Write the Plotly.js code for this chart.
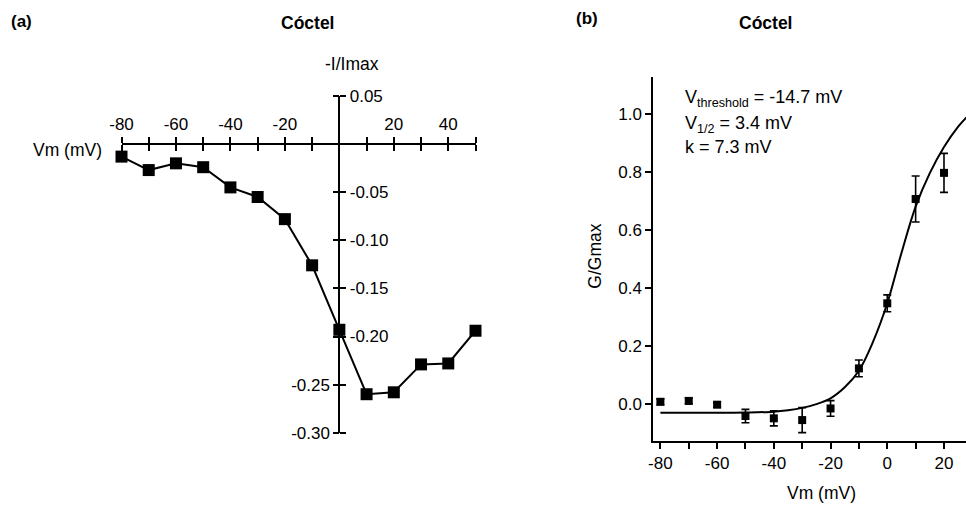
<!DOCTYPE html>
<html>
<head>
<meta charset="utf-8">
<script src="https://cdn.plot.ly/plotly-3.0.1.min.js"></script>
<style>html,body{margin:0;padding:0;background:#fff;}#chart{width:966px;height:505px;}</style>
</head>
<body>
<div id="chart"></div>
<script>
// ---- Panel (a): current-voltage relation ----
const VM_A = [-80, -70, -60, -50, -40, -30, -20, -10, 0, 10, 20, 30, 40, 50];
const I_A = [-0.013, -0.027, -0.020, -0.024, -0.045, -0.055, -0.078, -0.126, -0.193, -0.260, -0.258, -0.229, -0.228, -0.194];
const XA_MAJOR = [-80, -60, -40, -20, 20, 40];
const XA_LABELS = ['-80', '-60', '-40', '-20', '20', '40'];
const XA_MINOR = [-70, -50, -30, -10, 0, 10, 30, 50];
const XA_ALL = [-80, -70, -60, -50, -40, -30, -20, -10, 0, 10, 20, 30, 40, 50];
const YA_RIGHT = [0.05, -0.05, -0.10, -0.15, -0.20];
const YA_RIGHT_LABELS = ['0.05', '-0.05', '-0.10', '-0.15', '-0.20'];
const YA_LEFT = [-0.25, -0.30];
const YA_LEFT_LABELS = ['-0.25', '-0.30'];
const YA_ALL = [0.05, 0, -0.05, -0.10, -0.15, -0.20, -0.25, -0.30];

// ---- Panel (b): conductance-voltage relation ----
const VM_B = [-80, -70, -60, -50, -40, -30, -20, -10, 0, 10, 20];
const G_B = [0.008, 0.011, -0.002, -0.041, -0.049, -0.055, -0.015, 0.123, 0.347, 0.706, 0.796];
const ERR_B = [0.010, 0.010, 0.008, 0.023, 0.026, 0.043, 0.027, 0.029, 0.029, 0.079, 0.067];
const FIT_X = [-80, -70, -60, -50, -40, -35, -30, -25, -20, -15, -10, -5, 0, 5, 10, 15, 20, 25, 28];
const FIT_Y = [-0.030, -0.030, -0.030, -0.029, -0.026, -0.021, -0.013, 0.000, 0.020, 0.058, 0.115, 0.215, 0.347, 0.520, 0.680, 0.795, 0.885, 0.955, 0.988];
const XB_MAJOR = [-80, -60, -40, -20, 0, 20];
const XB_LABELS = ['-80', '-60', '-40', '-20', '0', '20'];
const XB_MINOR = [-70, -50, -30, -10, 10];
const YB_TICKS = [0, 0.2, 0.4, 0.6, 0.8, 1.0];
const YB_LABELS = ['0.0', '0.2', '0.4', '0.6', '0.8', '1.0'];

const FONT = 'Liberation Sans, Arial, Helvetica, sans-serif';
const W = 966, H = 505;
const px = v => v / W;
const py = v => 1 - v / H;

// geometry of panel (a)
const XA_RANGE = [-80, 50];
const YA_RANGE = [-0.30, 0.05];
const XA_DOM = [px(121.5), px(475.5)];
const YA_DOM = [py(432.7), py(96)];
const yZeroPos = YA_DOM[0] + (0 - YA_RANGE[0]) / (YA_RANGE[1] - YA_RANGE[0]) * (YA_DOM[1] - YA_DOM[0]);
const xZeroPos = XA_DOM[0] + (0 - XA_RANGE[0]) / (XA_RANGE[1] - XA_RANGE[0]) * (XA_DOM[1] - XA_DOM[0]);

const tickFont = {family: FONT, size: 17, color: '#000'};
const tk = {ticks: 'outside', ticklen: 6, tickwidth: 2, tickcolor: '#000'};
const minorTicks = vals => Object.assign({tickmode: 'array', tickvals: vals}, tk);

const traces = [
  {
    x: VM_A, y: I_A, xaxis: 'x', yaxis: 'y', type: 'scatter', mode: 'lines+markers',
    line: {color: '#000', width: 2},
    marker: {symbol: 'square', size: 12, color: '#000'},
    cliponaxis: false, hoverinfo: 'skip'
  },
  {
    x: [], y: [], xaxis: 'x3', yaxis: 'y3', type: 'scatter', mode: 'lines', hoverinfo: 'skip'
  },
  {
    x: FIT_X, y: FIT_Y, xaxis: 'x2', yaxis: 'y2', type: 'scatter', mode: 'lines',
    line: {color: '#000', width: 2, shape: 'spline', smoothing: 1},
    hoverinfo: 'skip'
  },
  {
    x: VM_B, y: G_B, xaxis: 'x2', yaxis: 'y2', type: 'scatter', mode: 'markers',
    marker: {symbol: 'square', size: 8, color: '#000'},
    error_y: {type: 'data', array: ERR_B, visible: true, color: '#000', thickness: 1.6, width: 4},
    cliponaxis: false, hoverinfo: 'skip'
  }
];

const base = {showgrid: false, zeroline: false, fixedrange: true};

const layout = {
  width: W, height: H,
  margin: {l: 0, r: 0, t: 0, b: 0, pad: 0},
  paper_bgcolor: '#fff', plot_bgcolor: 'rgba(0,0,0,0)',
  showlegend: false,
  font: {family: FONT, size: 17, color: '#000'},
  xaxis: Object.assign({}, base, tk, {
    domain: XA_DOM, range: XA_RANGE, anchor: 'free', position: yZeroPos, side: 'top',
    showline: true, linecolor: '#000', linewidth: 2,
    tickmode: 'array', tickvals: XA_MAJOR, ticktext: XA_LABELS, tickfont: tickFont,
    minor: minorTicks(XA_MINOR)
  }),
  xaxis3: Object.assign({}, base, tk, {
    domain: XA_DOM, range: XA_RANGE, overlaying: 'x', anchor: 'free', position: yZeroPos, side: 'bottom',
    showline: false, tickmode: 'array', tickvals: XA_ALL, showticklabels: false
  }),
  yaxis: Object.assign({}, base, tk, {
    domain: YA_DOM, range: YA_RANGE, anchor: 'free', position: xZeroPos, side: 'right',
    showline: true, linecolor: '#000', linewidth: 2,
    tickmode: 'array', tickvals: YA_RIGHT, ticktext: YA_RIGHT_LABELS, tickfont: tickFont,
    minor: minorTicks(YA_ALL.filter(v => !YA_RIGHT.includes(v)))
  }),
  yaxis3: Object.assign({}, base, tk, {
    domain: YA_DOM, range: YA_RANGE, overlaying: 'y', anchor: 'free', position: xZeroPos, side: 'left',
    showline: false,
    tickmode: 'array', tickvals: YA_LEFT, ticktext: YA_LEFT_LABELS, tickfont: tickFont,
    minor: minorTicks(YA_ALL.filter(v => !YA_LEFT.includes(v)))
  }),
  xaxis2: Object.assign({}, base, tk, {
    domain: [px(653.3), 1], range: [-82.5, 27.76], anchor: 'y2', side: 'bottom',
    showline: true, linecolor: '#000', linewidth: 2,
    tickmode: 'array', tickvals: XB_MAJOR, ticktext: XB_LABELS, tickfont: tickFont,
    minor: minorTicks(XB_MINOR)
  }),
  yaxis2: Object.assign({}, base, tk, {
    domain: [py(441), py(77.3)], range: [-0.127, 1.125], anchor: 'x2', side: 'left',
    showline: true, linecolor: '#000', linewidth: 2,
    tickmode: 'array', tickvals: YB_TICKS, ticktext: YB_LABELS, tickfont: tickFont
  }),
  annotations: [
    {text: '<b>(a)</b>', x: px(21.7), y: py(21.5), xanchor: 'center', yanchor: 'middle', font: {size: 17}},
    {text: '<b>Cóctel</b>', x: px(307.7), y: py(23), xanchor: 'center', yanchor: 'middle', font: {size: 17.5}},
    {text: '-I/Imax', x: px(351.5), y: py(64), xanchor: 'center', yanchor: 'middle', font: {size: 17.5}},
    {text: 'Vm (mV)', x: px(104), y: py(150), xanchor: 'right', yanchor: 'middle', font: {size: 17.5}},
    {text: '<b>(b)</b>', x: px(586.5), y: py(18.5), xanchor: 'center', yanchor: 'middle', font: {size: 17}},
    {text: '<b>Cóctel</b>', x: px(765.5), y: py(23), xanchor: 'center', yanchor: 'middle', font: {size: 17.5}},
    {text: 'V<sub>threshold</sub> = -14.7 mV', x: px(683.3), y: py(99), xanchor: 'left', yanchor: 'middle', font: {size: 18}},
    {text: 'V<sub>1/2</sub> = 3.4 mV', x: px(683.3), y: py(124), xanchor: 'left', yanchor: 'middle', font: {size: 18}},
    {text: 'k = 7.3 mV', x: px(683.3), y: py(147), xanchor: 'left', yanchor: 'middle', font: {size: 18}},
    {text: 'Vm (mV)', x: px(821.2), y: py(493), xanchor: 'center', yanchor: 'middle', font: {size: 17.5}},
    {text: 'G/Gmax', x: px(595), y: py(256.7), xanchor: 'center', yanchor: 'middle', textangle: -90, font: {size: 17.5}}
  ].map(a => Object.assign({xref: 'paper', yref: 'paper', showarrow: false}, a))
};

Plotly.newPlot('chart', traces, layout, {staticPlot: true, displayModeBar: false});
</script>
</body>
</html>
